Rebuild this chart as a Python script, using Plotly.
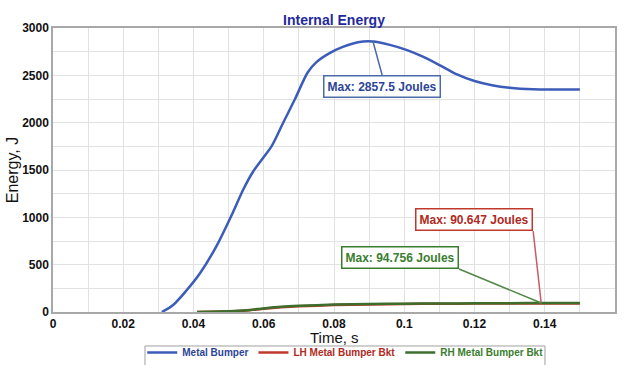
import plotly.graph_objects as go

# ---- data ----
t_metal = [0.031, 0.0342, 0.0381, 0.0419, 0.0467, 0.0512, 0.0541, 0.0569, 0.0598, 0.0623,
           0.0655, 0.0689, 0.0725, 0.075, 0.0785, 0.0825, 0.0868, 0.0911, 0.0959, 0.1008,
           0.1053, 0.1102, 0.115, 0.12, 0.125, 0.13, 0.1367, 0.143, 0.15]
e_metal = [0, 74, 232, 412, 707, 1050, 1289, 1479, 1627, 1755,
           1996, 2250, 2530, 2640, 2730, 2800, 2850, 2857.5, 2822, 2767,
           2697, 2605, 2510, 2440, 2395, 2368, 2352, 2350, 2350]

t_bkt = [0.041, 0.045, 0.05, 0.055, 0.06, 0.065, 0.07, 0.08, 0.09, 0.1, 0.11, 0.12, 0.13, 0.139, 0.15]
e_lh = [0, 3, 7, 16, 35, 50, 60, 73, 80, 85, 87.5, 89, 90, 90.647, 90.5]
e_rh = [0, 3, 8, 18, 38, 55, 65, 78, 84, 88, 90, 92, 93.5, 94.756, 94.5]

x_ticks = [0, 0.02, 0.04, 0.06, 0.08, 0.1, 0.12, 0.14, 0.16]
x_ticklabels = ["0", "0.02", "0.04", "0.06", "0.08", "0.1", "0.12", "0.14", "0.16"]
y_ticks = [0, 500, 1000, 1500, 2000, 2500, 3000]

BLUE = "#3b5cb8"
BLUE_TXT = "#2b4596"
RED = "#c0392b"
RED_TXT = "#b02a22"
GREEN = "#3e6e2c"
GREEN_TXT = "#3a7d2e"
FONT = "Liberation Sans, Arial, sans-serif"

fig = go.Figure()
fig.add_trace(go.Scatter(x=t_metal, y=e_metal, mode="lines",
                         line=dict(color=BLUE, width=2.5, shape="spline", smoothing=0.8),
                         name=f"<span style='color:{BLUE_TXT}'><b>Metal Bumper</b></span>"))
fig.add_trace(go.Scatter(x=t_bkt, y=e_lh, mode="lines",
                         line=dict(color=RED, width=2.5, shape="spline", smoothing=0.6),
                         name=f"<span style='color:{RED_TXT}'><b>LH Metal Bumper Bkt</b></span>"))
fig.add_trace(go.Scatter(x=t_bkt, y=e_rh, mode="lines",
                         line=dict(color=GREEN, width=2.5, shape="spline", smoothing=0.6),
                         name=f"<span style='color:{GREEN_TXT}'><b>RH Metal Bumper Bkt</b></span>"))

i_m = e_metal.index(max(e_metal))
i_l = e_lh.index(max(e_lh))
i_r = e_rh.index(max(e_rh))

common = dict(showarrow=True, arrowhead=0, arrowwidth=1.5, axref="x", ayref="y",
              bgcolor="white", borderwidth=1.5, borderpad=3)
fig.add_annotation(x=t_metal[i_m], y=e_metal[i_m], ax=0.0937, ay=2503,
                   xanchor="center", yanchor="top",
                   text=f"Max: {max(e_metal)} Joules", arrowcolor="#4a6aa8",
                   bordercolor="#4a6aa8",
                   font=dict(family=FONT, size=12, weight="bold", color=BLUE_TXT), **common)
fig.add_annotation(x=t_bkt[i_l], y=e_lh[i_l], ax=0.1367, ay=855,
                   xanchor="right", yanchor="bottom",
                   text=f"Max: {max(e_lh)} Joules", arrowcolor="#c85a6a",
                   bordercolor=RED,
                   font=dict(family=FONT, size=12, weight="bold", color=RED_TXT), **common)
fig.add_annotation(x=t_bkt[i_r], y=e_rh[i_r], ax=0.1156, ay=454,
                   xanchor="right", yanchor="bottom",
                   text=f"Max: {max(e_rh)} Joules", arrowcolor="#4f8a45",
                   bordercolor=GREEN_TXT,
                   font=dict(family=FONT, size=12, weight="bold", color=GREEN_TXT), **common)

# x-axis title placed as an annotation for exact position
fig.add_annotation(x=0.5, y=-0.0915, xref="paper", yref="paper", showarrow=False,
                   xanchor="center", yanchor="middle", text="Time, s",
                   font=dict(family=FONT, size=15, color="#111"))

# legend frame
fig.add_shape(type="rect", xref="paper", yref="paper",
              x0=0.1637, x1=0.8754, y0=-0.1197, y1=-0.195,
              line=dict(color="#a0a0a0", width=1), fillcolor="rgba(0,0,0,0)")

axis_common = dict(showline=True, mirror=True, linecolor="#a8a8a8", linewidth=1.5,
                   showgrid=True, gridcolor="#e2e2e2", gridwidth=1, zeroline=False,
                   automargin=False, ticks="",
                   tickfont=dict(family=FONT, size=12, weight="bold", color="#111"))

fig.update_layout(
    width=626, height=365,
    margin=dict(l=53, r=11, t=28, b=53, autoexpand=False),
    paper_bgcolor="white", plot_bgcolor="white",
    title=dict(text="<b>Internal Energy</b>", x=0.5, xref="paper", xanchor="center",
               y=1, yref="paper", yanchor="bottom", pad=dict(b=3),
               font=dict(family=FONT, size=14, color="#1f2a9e")),
    xaxis=dict(range=[0, 0.16], tickvals=x_ticks, ticktext=x_ticklabels,
               minor=dict(dtick=0.01, showgrid=True, gridcolor="#e2e2e2"),
               **axis_common),
    yaxis=dict(range=[0, 3000], tickvals=y_ticks,
               minor=dict(dtick=250, showgrid=True, gridcolor="#e2e2e2"),
               title=dict(text="Energy, J", font=dict(family=FONT, size=16, color="#111"), standoff=0),
               **axis_common),
    legend=dict(orientation="h", x=0.52, xanchor="center", y=-0.0915, yanchor="top",
                borderwidth=0, bgcolor="rgba(0,0,0,0)",
                font=dict(family=FONT, size=10), itemwidth=30, tracegroupgap=0),
    showlegend=True,
)

fig.write_html("out.html", config={"displayModeBar": False},
               post_script="document.body.style.margin='0';document.body.style.padding='0';")
